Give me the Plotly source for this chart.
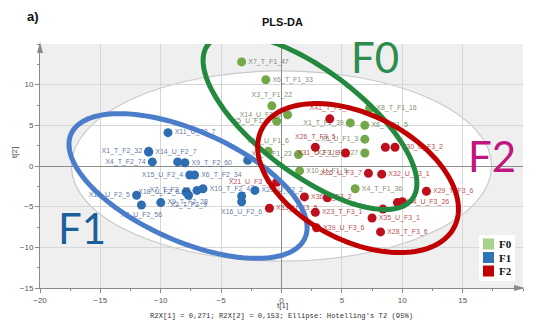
import numpy as np
import plotly.graph_objects as go

# ---------------- data ----------------
f0_x = [-3.3, -1.3, -0.8, 0.5, -0.4, -1.1, 1.4, 1.5, 7.3, 5.7, 6.9, 6.9, 6.9, 6.1]
f0_y = [12.8, 10.6, 7.4, 6.3, 5.5, 1.8, 1.4, -0.6, 7.1, 5.3, 5.0, 3.3, 1.6, -2.8]
f0_lab = ["X7_T_F1_47", "X6_T_F1_33", "X3_T_F1_22", "X14_U_F1_6", "X5_U_F1_1",
          "X16_U_F1_6", "X9_T_F1_23", "X10_U_F1_9", "X8_T_F1_16", "X1_T_F1_39",
          "X6_T_F1_5", "X5_U_F1_3", "X2_U_F1_27", "X4_T_F1_36"]
f0_pos = ["middle right", "middle right", "top center", "middle left", "middle left",
          "top center", "middle left", "middle right", "middle right", "middle left",
          "middle right", "middle left", "middle left", "middle right"]

f1_x = [-9.4, -11.0, -11.0, -10.7, -8.6, -8.0, -2.8, -7.6, -7.2, -12.0, -11.6, -10.0,
        -7.7, -7.9, -7.0, -6.5, -3.3, -3.3, -2.2]
f1_y = [4.1, 1.8, 1.7, 0.5, 0.5, 0.4, 0.7, -1.1, -1.1, -3.6, -4.8, -4.5,
        -3.6, -3.2, -3.0, -2.8, -3.7, -4.4, -3.0]
f1_lab = ["X11_U_F2_7", "X1_T_F2_32", "X14_U_F2_7", "X4_T_F2_74", "", "X9_T_F2_60", "",
          "X15_U_F2_4", "X6_T_F2_34", "X12_U_F2_5", "X8_U_F2_56", "X9_T_F2_28",
          "X2_T_F2_9", "X18_U_F2_8", "X7_T_F2_15", "X10_T_F2_4", "", "X16_U_F2_6", "X20_U_F2_2"]
f1_pos = ["middle right", "middle left", "middle right", "middle left", "middle right",
          "middle right", "middle right", "middle left", "middle right", "middle left",
          "bottom center", "middle right", "bottom center", "middle left", "middle left",
          "middle right", "middle right", "bottom center", "middle right"]

f2_x = [4.0, 2.8, 5.3, 8.6, 9.4, 7.2, 8.3, 12.0, -0.4, 1.9, 3.8, 9.6, 10.0, 8.4, 7.5,
        8.2, 2.8, -1.0, 2.9]
f2_y = [5.8, 2.3, 1.6, 2.3, 2.3, -0.9, -1.0, -3.1, -2.0, -3.8, -3.9, -4.5, -4.4, -5.3,
        -6.4, -8.1, -5.7, -5.2, -7.6]
f2_lab = ["X41_T_F3_9", "X26_T_F3_5", "X31_U_F3_8", "", "X30_U_F3_2", "X26_U_F3_7",
          "X32_U_F3_1", "X29_T_F3_6", "X21_U_F3_6", "X36_T_F3_2", "", "X34_U_F3_26", "",
          "", "X35_U_F3_1", "X28_T_F3_6", "X23_T_F3_1", "X33_U_F3_5", "X39_U_F3_6"]
f2_pos = ["top center", "top center", "middle left", "middle right", "middle right",
          "middle left", "middle right", "middle right", "middle left", "middle right",
          "middle right", "middle right", "middle right", "middle right", "middle right",
          "middle right", "middle right", "middle right", "middle right"]

groups_names = ["F0", "F1", "F2"]
x_ticks = [-20, -15, -10, -5, 0, 5, 10, 15]
y_ticks = [-15, -10, -5, 0, 5, 10]
r2x = [0.271, 0.153]

# ---------------- figure ----------------
W, H = 555, 325
ML, MR, MT, MB = 40, 32, 44, 37
PW, PH = W - ML - MR, H - MT - MB
XR, YR = [-20, 20], [-15, 15]
SX = PW / (XR[1] - XR[0])
SY = PH / (YR[1] - YR[0])

fig = go.Figure()

groups = [
    (f0_x, f0_y, f0_lab, f0_pos, "#72a848", "rgba(80,100,60,0.75)", "#a9d18e"),
    (f1_x, f1_y, f1_lab, f1_pos, "#2f6db2", "rgba(40,70,130,0.75)", "#2e75b6"),
    (f2_x, f2_y, f2_lab, f2_pos, "#bd0f1c", "rgba(170,20,30,0.8)", "#c00000"),
]
for name, (xs, ys, labs, pos, mc, tc, lc) in zip(groups_names, groups):
    fig.add_trace(go.Scatter(
        x=xs, y=ys, mode="markers+text", text=labs, textposition=pos, name=name,
        marker=dict(size=9, color=mc), textfont=dict(size=7, color=tc, family="Liberation Sans"),
        showlegend=False, cliponaxis=False, hoverinfo="skip"))


def ellipse_path(cx, cy, a_px, b_px, ang_deg, n=140):
    t = np.linspace(0, 2 * np.pi, n)
    th = np.radians(ang_deg)
    dxp = a_px * np.cos(t) * np.cos(th) - b_px * np.sin(t) * np.sin(th)
    dyp = a_px * np.cos(t) * np.sin(th) + b_px * np.sin(t) * np.cos(th)
    xs = cx + dxp / SX
    ys = cy - dyp / SY
    return "M " + " L ".join(f"{x:.3f},{y:.3f}" for x, y in zip(xs, ys)) + " Z"


def px(xp):
    return (xp - ML) / PW


def py(yp):
    return (H - MB - yp) / PH


shapes = []
# Hotelling T2 ellipse
shapes.append(dict(type="circle", xref="x", yref="y", x0=-17.4, x1=17.4, y0=-11.7, y1=11.7,
                   fillcolor="white", line=dict(color="#c9c9c9", width=1.2), layer="below"))
# hand-drawn group ellipses
shapes.append(dict(type="path", xref="x", yref="y", path=ellipse_path(2.36, 5.41, 128, 52, 37),
                   line=dict(color="#23893f", width=5), layer="above"))
shapes.append(dict(type="path", xref="x", yref="y", path=ellipse_path(-7.74, -2.46, 128, 55, 24),
                   line=dict(color="#4a7dca", width=5), layer="above"))
shapes.append(dict(type="path", xref="x", yref="y", path=ellipse_path(6.34, -1.48, 108, 63, 27),
                   line=dict(color="#c00000", width=5), layer="above"))
# axis arrows
ax_w, ax_h = 3 / PW, 9 / PH
shapes.append(dict(type="path", xref="paper", yref="paper",
                   path=f"M {-ax_w},{1-ax_h} L 0,{1+2/PH} L {ax_w},{1-ax_h} Z",
                   fillcolor="#8a8a8a", line=dict(width=0)))
shapes.append(dict(type="path", xref="paper", yref="paper",
                   path=f"M {1-9/PW},{3/PH} L {1+2/PW},0 L {1-9/PW},{-3/PH} Z",
                   fillcolor="#8a8a8a", line=dict(width=0)))

# legend box (drawn)
shapes.append(dict(type="rect", xref="paper", yref="paper", x0=px(479), x1=px(515),
                   y0=py(281), y1=py(235), fillcolor="white", line=dict(width=0)))
leg_rows = [244, 257.5, 271]
ann = []
for name, g, yc in zip(groups_names, groups, leg_rows):
    shapes.append(dict(type="rect", xref="paper", yref="paper", x0=px(483), x1=px(494),
                       y0=py(yc + 5.5), y1=py(yc - 5.5), fillcolor=g[6], line=dict(width=0)))
    ann.append(dict(text=f"<b>{name}</b>", x=px(497), y=py(yc), xanchor="left",
                    font=dict(size=11, family="Liberation Serif", color="#111")))

ann += [
    dict(text="<b>a)</b>", x=px(33), y=py(16), font=dict(size=13, family="Liberation Sans", color="#111")),
    dict(text="<b>PLS-DA</b>", x=px(282), y=py(22), font=dict(size=11, family="Liberation Sans", color="#111")),
    dict(text="t[2]", x=px(14), y=py(153), textangle=-90, font=dict(size=8, family="Liberation Sans", color="#444")),
    dict(text="t[1]", x=px(282), y=py(305), font=dict(size=8, family="Liberation Sans", color="#444")),
    dict(text=f"R2X[1] = {r2x[0]:.3f}".replace(".", ",") + f"; R2X[2] = {r2x[1]:.3f}".replace(".", ",")
         + "; Ellipse: Hotelling's T2 (95%)",
         x=px(281), y=py(316), font=dict(size=7.2, family="Liberation Mono", color="#333")),
    dict(text="F0", x=px(375), y=py(57), font=dict(size=42, family="Lato", color="#2e8b4e")),
    dict(text="F1", x=px(82), y=py(228), font=dict(size=42, family="Lato", color="#1c5e9c")),
    dict(text="F2", x=px(492), y=py(156), font=dict(size=42, family="Lato", color="#c0177f")),
]
for a in ann:
    a.setdefault("xanchor", "center")
    a.update(xref="paper", yref="paper", showarrow=False, yanchor="middle")

axis_common = dict(showline=True, linecolor="#8a8a8a", linewidth=1, ticks="outside", ticklen=4,
                   tickcolor="#8a8a8a", tickfont=dict(size=8, family="Liberation Sans", color="#555"),
                   showgrid=True, gridcolor="#d6d6d6", gridwidth=1, zeroline=True,
                   zerolinecolor="#8c8c8c", zerolinewidth=1,
                   minor=dict(ticks="outside", ticklen=2, tickcolor="#8a8a8a", dtick=2.5, showgrid=False))

fig.update_layout(
    width=W, height=H, margin=dict(l=ML, r=MR, t=MT, b=MB, autoexpand=False),
    paper_bgcolor="white", plot_bgcolor="#efefef", showlegend=False,
    xaxis=dict(range=XR, tickvals=x_ticks, **axis_common),
    yaxis=dict(range=YR, tickvals=y_ticks, **axis_common),
    shapes=shapes, annotations=ann,
)

fig.write_html("out.html", config={"displayModeBar": False},
               post_script="document.body.style.margin='0';document.body.style.overflow='hidden';")
